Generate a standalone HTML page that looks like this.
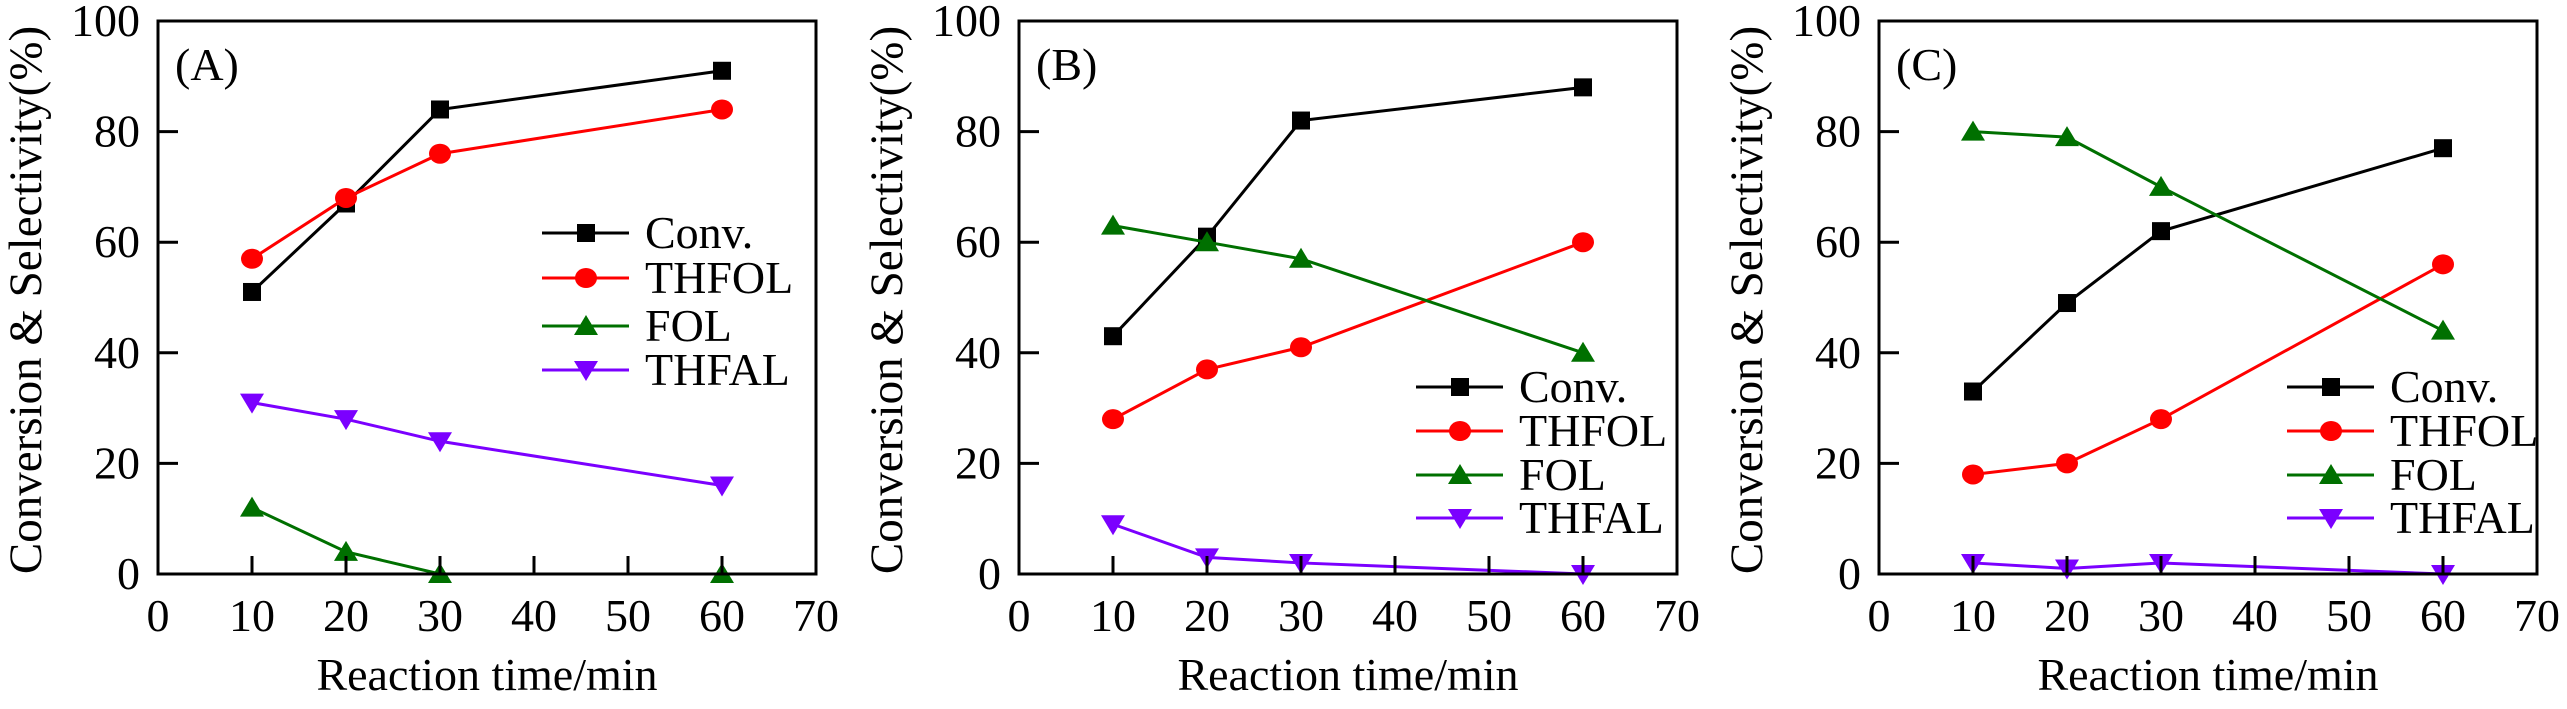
<!DOCTYPE html>
<html><head><meta charset="utf-8">
<style>
html,body{margin:0;padding:0;background:#fff;}
svg{display:block;}
svg text{font-family:"Liberation Serif","Times New Roman",serif !important;fill:#000;}
</style></head>
<body>
<svg id="chart" width="2567" height="709" viewBox="0 0 2567 709" xmlns="http://www.w3.org/2000/svg" font-family="Liberation Serif, serif"></svg>
<script>
const times = [10, 20, 30, 60];
const seriesNames = ["Conv.", "THFOL", "FOL", "THFAL"];
const xTicks = [0, 10, 20, 30, 40, 50, 60, 70];
const yTicks = [0, 20, 40, 60, 80, 100];
const panelLabels = ["(A)", "(B)", "(C)"];
const aConv = [51, 67, 84, 91];
const aTHFOL = [57, 68, 76, 84];
const aFOL = [12, 4, 0, 0];
const aTHFAL = [31, 28, 24, 16];
const bConv = [43, 61, 82, 88];
const bTHFOL = [28, 37, 41, 60];
const bFOL = [63, 60, 57, 40];
const bTHFAL = [9, 3, 2, 0];
const cConv = [33, 49, 62, 77];
const cTHFOL = [18, 20, 28, 56];
const cFOL = [80, 79, 70, 44];
const cTHFAL = [2, 1, 2, 0];

const colors = ["#000000", "#ff0000", "#007000", "#7b00ff"];
const markers = ["square", "circle", "up", "down"];
const panels = [
  {left:158, data:[aConv,aTHFOL,aFOL,aTHFAL], legX:542, legY:[233,278,326,370]},
  {left:1019, data:[bConv,bTHFOL,bFOL,bTHFAL], legX:1416, legY:[387,431,475,518]},
  {left:1879, data:[cConv,cTHFOL,cFOL,cTHFAL], legX:2287, legY:[387,431,475,518]}
];
const W = 658, TOP = 21, BOT = 574;
const FONT = "'Liberation Serif', 'Times New Roman', serif";
const svg = document.getElementById('chart');
const NS = "http://www.w3.org/2000/svg";
function mk(tag, attrs, parent){
  const e = document.createElementNS(NS, tag);
  for (const k in attrs) e.setAttribute(k, attrs[k]);
  if (tag === 'text') { e.setAttribute('font-family', FONT); e.style.fontFamily = FONT; }
  (parent||svg).appendChild(e);
  return e;
}
function marker(g, type, x, y, color){
  let e;
  if (type==="square") e = mk('rect',{x:x-9,y:y-9,width:18,height:18,fill:color},g);
  else if (type==="circle") e = mk('ellipse',{cx:x,cy:y,rx:11,ry:10,fill:color},g);
  else if (type==="up") e = mk('polygon',{points:`${x-12},${y+9} ${x+12},${y+9} ${x},${y-11}`,fill:color},g);
  else e = mk('polygon',{points:`${x-12},${y-9} ${x+12},${y-9} ${x},${y+11}`,fill:color},g);
  return e;
}
panels.forEach((p, pi) => {
  const xs = v => p.left + v / 70 * W;
  const ys = v => BOT - v / 100 * (BOT - TOP);
  const g = mk('g', {});
  
  
  p.data.forEach((vals, si) => {
    const sg = mk('g', {}, g);
    
    
    const pts = vals.map((v, i) => xs(times[i]) + ',' + ys(v)).join(' ');
    mk('polyline', {points: pts, fill:'none', stroke:colors[si], 'stroke-width':3}, sg);
    vals.forEach((v, i) => {
      const m = marker(sg, markers[si], xs(times[i]), ys(v), colors[si]);
      
      
    });
  });
  const fr = mk('rect', {x:p.left, y:TOP, width:W, height:BOT-TOP, fill:'none', stroke:'#000', 'stroke-width':3}, g);
  
  
  xTicks.forEach(t => {
    const x = xs(t);
    if (t > 0 && t < 70) mk('line', {x1:x, x2:x, y1:BOT, y2:BOT-18, stroke:'#000', 'stroke-width':3}, g);
    const tx = mk('text', {x:x, y:631, 'font-size':46, 'text-anchor':'middle'}, g);
    tx.textContent = t;
    
    
  });
  yTicks.forEach(t => {
    const y = ys(t);
    if (t > 0 && t < 100) mk('line', {x1:p.left, x2:p.left+20, y1:y, y2:y, stroke:'#000', 'stroke-width':3}, g);
    const tx = mk('text', {x:p.left-18, y:y+15, 'font-size':46, 'text-anchor':'end'}, g);
    tx.textContent = t;
    
    
  });
  const xt = mk('text', {x:p.left + W/2, y:690, 'font-size':46, 'text-anchor':'middle'}, g);
  xt.textContent = 'Reaction time/min';
  
  
  const yx = p.left - 117;
  const yt = mk('text', {x:yx, y:300, 'font-size':47, 'text-anchor':'middle', transform:`rotate(-90 ${yx} 300)`}, g);
  yt.textContent = 'Conversion & Selectivity(%)';
  
  
  const pl = mk('text', {x:p.left+17, y:80, 'font-size':46}, g);
  pl.textContent = panelLabels[pi];
  
  
  const lg = mk('g', {}, g);
  
  
  seriesNames.forEach((n, si) => {
    const y = p.legY[si];
    const eg = mk('g', {}, lg);
    
    
    mk('line', {x1:p.legX, x2:p.legX+87, y1:y, y2:y, stroke:colors[si], 'stroke-width':3}, eg);
    marker(eg, markers[si], p.legX+44, y, colors[si]);
    const t = mk('text', {x:p.legX+103, y:y+15, 'font-size':46}, eg);
    t.textContent = n;
  });
});
</script>
</body></html>
